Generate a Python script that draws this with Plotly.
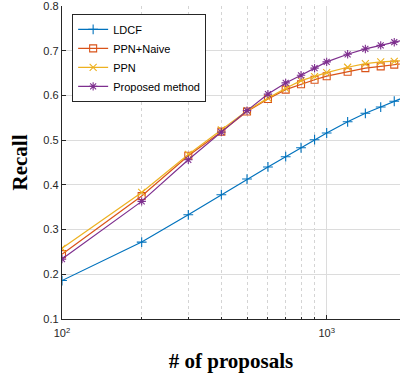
import plotly.graph_objects as go

proposals = [100, 200, 300, 400, 500, 600, 700, 800, 900, 1000, 1200, 1400, 1600, 1800, 2000]
ldcf = [0.186, 0.272, 0.333, 0.378, 0.413, 0.440, 0.463, 0.483, 0.501, 0.516, 0.541, 0.560, 0.574, 0.587, 0.598]
ppn_naive = [0.245, 0.375, 0.465, 0.519, 0.564, 0.592, 0.613, 0.625, 0.635, 0.643, 0.653, 0.661, 0.665, 0.669, 0.672]
ppn = [0.258, 0.383, 0.468, 0.523, 0.566, 0.594, 0.616, 0.633, 0.642, 0.651, 0.663, 0.671, 0.675, 0.676, 0.678]
proposed = [0.234, 0.363, 0.456, 0.518, 0.566, 0.603, 0.628, 0.645, 0.661, 0.675, 0.692, 0.704, 0.712, 0.719, 0.725]

y_ticks = [0.1, 0.2, 0.3, 0.4, 0.5, 0.6, 0.7, 0.8]
y_ticklabels = ["0.1", "0.2", "0.3", "0.4", "0.5", "0.6", "0.7", "0.8"]
x_ticks = [100, 1000]
x_ticklabels = ["10<sup>2</sup>", "10<sup>3</sup>"]
x_minor = [200, 300, 400, 500, 600, 700, 800, 900, 2000]

series = [
    ("LDCF", ldcf, "#0072BD", "cross-thin-open"),
    ("PPN+Naive", ppn_naive, "#D95319", "square-open"),
    ("PPN", ppn, "#EDB120", "x-thin-open"),
    ("Proposed method", proposed, "#7E2F8E", "asterisk-open"),
]

fig = go.Figure()
for name, vals, col, sym in series:
    fig.add_trace(go.Scatter(
        x=proposals, y=vals, name=name, mode="lines+markers",
        line=dict(color=col, width=1.2),
        marker=dict(symbol=sym, size=7, color=col, line=dict(color=col, width=1.1)),
        cliponaxis=True,
    ))

axis_col = "#262626"
fig.update_layout(
    width=400, height=378,
    margin=dict(l=62, r=0, t=6, b=59),
    plot_bgcolor="white", paper_bgcolor="white",
    font=dict(family="Liberation Sans, Arial", size=11, color=axis_col),
    legend=dict(
        x=0.03, y=0.975, xanchor="left", yanchor="top",
        bgcolor="white", bordercolor="#262626", borderwidth=1,
        font=dict(family="Liberation Sans, Arial", size=11, color="#000000"),
        tracegroupgap=0,
    ),
    xaxis=dict(
        type="log", range=[2, 3.277],
        tickvals=x_ticks, ticktext=x_ticklabels,
        showline=True, linecolor=axis_col, linewidth=1.3,
        ticks="inside", ticklen=4, tickcolor=axis_col,
        showgrid=True, gridcolor="#dcdcdc", gridwidth=1,
        zeroline=False, mirror=False, ticklabeloverflow="allow",
        ticklabelstandoff=4,
        minor=dict(tickvals=x_minor,
                   showgrid=True, gridcolor="#d4d4d4", griddash="dot", gridwidth=1,
                   ticks="inside", ticklen=2, tickcolor=axis_col),
        title=dict(text="<b># of proposals</b>", standoff=14,
                   font=dict(family="Liberation Serif, Times New Roman", size=21, color="#000000")),
        tickfont=dict(size=11, color=axis_col),
    ),
    yaxis=dict(
        range=[0.1, 0.8], tickvals=y_ticks, ticktext=y_ticklabels,
        showline=True, linecolor=axis_col, linewidth=1.3,
        ticks="inside", ticklen=4, tickcolor=axis_col,
        showgrid=True, gridcolor="#dcdcdc", gridwidth=1,
        zeroline=False, ticklabeloverflow="allow",
        title=dict(text="<b>Recall</b>", standoff=10,
                   font=dict(family="Liberation Serif, Times New Roman", size=21, color="#000000")),
        tickfont=dict(size=11, color=axis_col),
    ),
)
fig.write_html("out.html")
